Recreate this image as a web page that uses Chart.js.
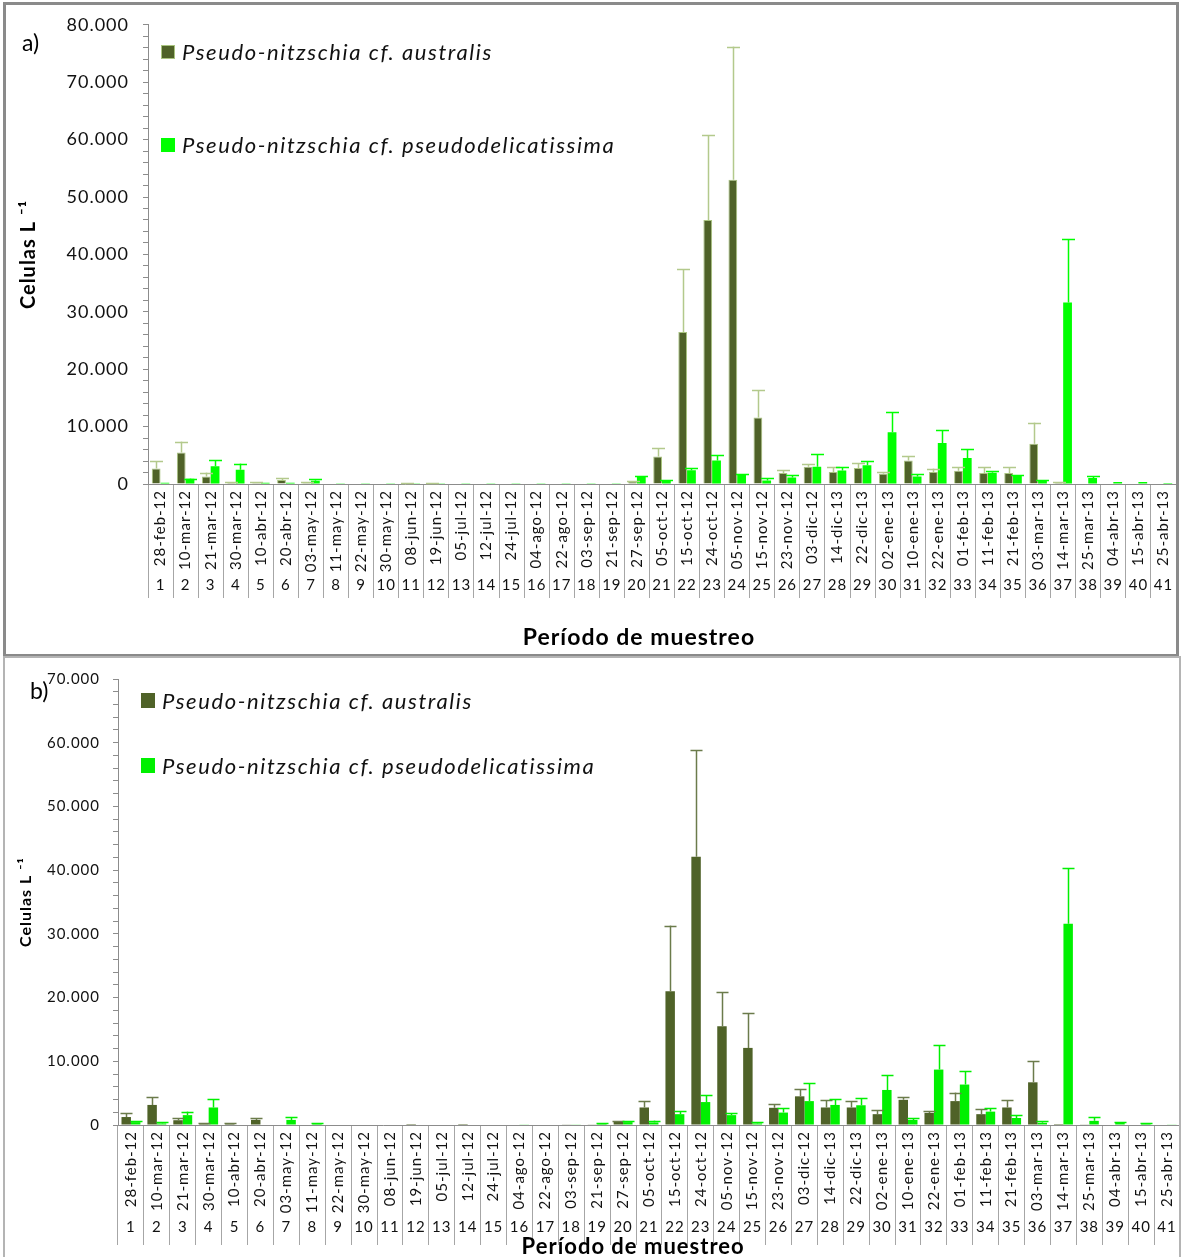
<!DOCTYPE html>
<html><head><meta charset="utf-8">
<script src="https://cdn.jsdelivr.net/npm/chart.js@4.4.1/dist/chart.umd.min.js"></script>
<style>
body{margin:0;background:#fff;width:1181px;height:1257px;overflow:hidden;position:relative;font-family:Lato,sans-serif;color:#000}
canvas{position:absolute;left:0}
#ca{top:0}
#cb{top:657px}
.frame{position:absolute;box-sizing:border-box;pointer-events:none}
#fa{left:3px;top:2px;width:1176px;height:655px;border:3px solid #8a8a8a}
#fb{left:3px;top:656px;width:1178px;height:620px;border:2px solid #b4b4b4}
.lab{position:absolute;font-size:23px}
.leg{position:absolute;font-style:italic;white-space:nowrap;display:flex;align-items:center;font-size:22px;letter-spacing:1.6px;color:#111}
.sq{display:inline-block;margin-right:7px;box-sizing:border-box}
</style></head>
<body>
<canvas id="ca" width="1181" height="656"></canvas>
<canvas id="cb" width="1181" height="600"></canvas>
<div class="frame" id="fa"></div>
<div class="frame" id="fb"></div>
<div class="lab" style="left:22px;top:28px">a)</div>
<div class="lab" style="left:30px;top:676px">b)</div>
<div class="leg" style="left:161px;top:38px"><span class="sq" style="width:14px;height:14px;background:#4f6228;border:1px solid #a9c47f"></span>Pseudo-nitzschia cf. australis</div>
<div class="leg" style="left:161px;top:131px"><span class="sq" style="width:14px;height:14px;background:#00ff00"></span>Pseudo-nitzschia cf. pseudodelicatissima</div>
<div class="leg" style="left:141px;top:687px"><span class="sq" style="width:14px;height:15px;background:#4f6228"></span>Pseudo-nitzschia cf. australis</div>
<div class="leg" style="left:141px;top:752px"><span class="sq" style="width:14px;height:15px;background:#00f000"></span>Pseudo-nitzschia cf. pseudodelicatissima</div>
<script>
const dates = ['28-feb-12','10-mar-12','21-mar-12','30-mar-12','10-abr-12','20-abr-12','03-may-12','11-may-12','22-may-12','30-may-12','08-jun-12','19-jun-12','05-jul-12','12-jul-12','24-jul-12','04-ago-12','22-ago-12','03-sep-12','21-sep-12','27-sep-12','05-oct-12','15-oct-12','24-oct-12','05-nov-12','15-nov-12','23-nov-12','03-dic-12','14-dic-13','22-dic-13','02-ene-13','10-ene-13','22-ene-13','01-feb-13','11-feb-13','21-feb-13','03-mar-13','14-mar-13','25-mar-13','04-abr-13','15-abr-13','25-abr-13'];
const nums = ['1','2','3','4','5','6','7','8','9','10','11','12','13','14','15','16','17','18','19','20','21','22','23','24','25','26','27','28','29','30','31','32','33','34','35','36','37','38','39','40','41'];
const seriesNames = ['Pseudo-nitzschia cf. australis','Pseudo-nitzschia cf. pseudodelicatissima'];

// Panel a
const aAus    = [2700,5500,1300,300,200,700,200,0,0,0,100,100,0,0,0,0,0,0,100,400,4800,26500,46000,53000,11600,1900,3000,2100,2800,1800,4100,2100,2300,1900,1900,7000,300,100,0,0,0];
const aAusErr = [1300,1900,700,100,200,400,100,0,0,0,50,50,0,0,0,0,0,0,0,100,1500,11000,14800,23200,4800,600,400,900,900,300,700,600,700,1100,1100,3700,100,0,0,0,0];
const aPse    = [200,900,3100,2500,200,200,550,150,150,150,150,150,150,150,150,150,150,150,150,1300,600,2400,4100,1700,600,1150,3000,2350,3250,9000,1300,7150,4550,1950,1500,600,31600,1050,350,350,170];
const aPseErr = [0,50,1050,1050,0,0,350,0,0,0,0,0,0,0,0,0,0,0,0,100,50,350,900,50,400,350,2200,650,750,3500,400,2250,1500,350,50,50,11000,400,0,0,0];

// Panel b
const bAus    = [1250,3150,750,300,250,800,0,0,0,0,0,150,0,150,0,0,0,100,100,550,2750,21000,42100,15500,12100,2700,4500,2750,2750,1700,3950,1900,3750,1700,2750,6700,150,100,0,0,0];
const bAusErr = [600,1300,400,50,50,300,0,0,0,0,0,0,0,0,0,0,0,0,0,50,950,10300,16700,5400,5500,550,1200,1100,950,600,500,350,1350,800,1100,3300,0,0,0,0,0];
const bPse    = [450,250,1550,2750,0,0,800,300,0,0,0,0,0,0,0,100,0,100,200,450,400,1700,3600,1550,250,1950,3750,3150,3100,5500,800,8700,6350,2100,1100,350,31600,650,350,250,100];
const bPseErr = [100,250,550,1300,0,0,500,50,0,0,0,0,0,0,0,0,0,0,50,100,300,550,1050,300,200,750,2900,900,1150,2300,300,3900,2100,600,400,300,8700,650,150,50,0];

const xTitle = 'Período de muestreo';
const yTitle = 'Celulas L \u207B\u00B9';

const fmt = v => v === 0 ? '0' : String(v).replace(/\B(?=(\d{3})+(?!\d))/g, '.');

const spacing = {
  id: 'spacing',
  beforeUpdate(chart) { chart.ctx.letterSpacing = '1px'; },
  beforeLayout(chart) { chart.ctx.letterSpacing = '1px'; },
  beforeDraw(chart) { chart.ctx.letterSpacing = '1px'; }
};

const errorBars = {
  id: 'errorBars',
  afterDatasetsDraw(chart, args, opts) {
    const ctx = chart.ctx, ys = chart.scales.y;
    chart.data.datasets.forEach((ds, di) => {
      const errs = opts.errors[di]; if (!errs) return;
      const meta = chart.getDatasetMeta(di);
      ctx.save();
      ctx.strokeStyle = opts.colors[di];
      ctx.lineWidth = opts.width;
      meta.data.forEach((bar, i) => {
        const e = errs[i]; if (!e) return;
        const base = ys.getPixelForValue(ds.data[i]);
        const top = ys.getPixelForValue(ds.data[i] + e);
        const x = Math.round(bar.x) + 0.5;
        ctx.beginPath();
        ctx.moveTo(x, base); ctx.lineTo(x, top);
        ctx.moveTo(x - opts.cap / 2, Math.round(top) + 0.5); ctx.lineTo(x + opts.cap / 2, Math.round(top) + 0.5);
        ctx.stroke();
      });
      ctx.restore();
    });
  }
};

function makeChart(id, cfg) {
  return new Chart(document.getElementById(id), {
    type: 'bar',
    data: {
      labels: dates,
      datasets: [
        {label: seriesNames[0], data: cfg.aus, backgroundColor: '#4f6228', borderColor: cfg.ausBorder, borderWidth: cfg.ausBorderW, categoryPercentage: cfg.catPct, barPercentage: 1.0},
        {label: seriesNames[1], data: cfg.pse, backgroundColor: cfg.green, borderWidth: 0, categoryPercentage: cfg.catPct, barPercentage: 1.0}
      ]
    },
    plugins: [spacing, errorBars],
    options: {
      responsive: false, animation: false,
      layout: {padding: {top: cfg.padTop, right: cfg.padRight, left: 0, bottom: 0}},
      plugins: {
        legend: {display: false}, tooltip: {enabled: false},
        errorBars: {errors: [cfg.ausErr, cfg.pseErr], colors: [cfg.ausErrColor, cfg.green], cap: cfg.cap, width: 1.5}
      },
      scales: {
        x: {
          type: 'category', offset: true,
          grid: {offset: true, drawOnChartArea: false, drawTicks: true, tickLength: cfg.sepLen, color: '#a6a6a6'},
          border: {color: '#8c8c8c'},
          ticks: {minRotation: 90, maxRotation: 90, autoSkip: false, padding: cfg.datePad, color: '#111', font: {family: 'Lato', size: 15}},
          afterFit(s) { s.height = cfg.xH; }
        },
        x2: {
          type: 'category', position: 'bottom', labels: nums, offset: true,
          grid: {display: false, drawTicks: false}, border: {display: false},
          ticks: {autoSkip: false, maxRotation: 0, minRotation: 0, padding: cfg.numPad, color: '#111', font: {family: 'Lato', size: 15}},
          title: {display: true, text: xTitle + '\u00A0'.repeat(cfg.titleShift), color: '#000', font: {family: 'Lato', size: cfg.xTitleSize, weight: 'bold'}, padding: {top: 0, bottom: cfg.xTitlePad}},
          afterFit(s) { s.height = cfg.x2H; }
        },
        y: {
          min: 0, max: cfg.yMax,
          grid: {drawOnChartArea: false, tickLength: 5, color: '#8c8c8c'},
          border: {color: '#8c8c8c'},
          ticks: {stepSize: 2000, autoSkip: false, padding: cfg.yPad, color: '#111', font: {family: 'Lato', size: cfg.yFont},
            callback: v => (v % 10000 === 0 ? fmt(v) : '')},
          title: {display: true, text: yTitle, color: '#000', font: {family: 'Lato', size: cfg.yTitleSize, weight: 'bold'}, padding: {top: cfg.yTitlePad, bottom: 0}},
          afterFit(s) { s.width = cfg.yW; }
        }
      }
    }
  });
}

makeChart('ca', {
  aus: aAus, ausErr: aAusErr, pse: aPse, pseErr: aPseErr,
  ausBorder: '#a9c47f', ausBorderW: 1, ausErrColor: '#b3c98c', green: '#00ff00',
  catPct: 0.7, cap: 13, padTop: 17, padRight: 5, yMax: 80000,
  sepLen: 114, datePad: -108, xH: 90, numPad: 2, x2H: 82, xTitleSize: 23, xTitlePad: 5, titleShift: 7,
  yPad: 14, yFont: 18, yTitleSize: 20, yTitlePad: 17, yW: 148
});
makeChart('cb', {
  aus: bAus, ausErr: bAusErr, pse: bPse, pseErr: bPseErr,
  ausBorder: '#4f6228', ausBorderW: 0, ausErrColor: '#6b7b4b', green: '#00f000',
  catPct: 0.73, cap: 12, padTop: 19, padRight: 1, yMax: 70000,
  sepLen: 120, datePad: -114, xH: 90, numPad: 3, x2H: 42, xTitleSize: 22, xTitlePad: -3, titleShift: 5,
  yPad: 13, yFont: 15, yTitleSize: 16, yTitlePad: 16, yW: 118
});
</script>
</body></html>
